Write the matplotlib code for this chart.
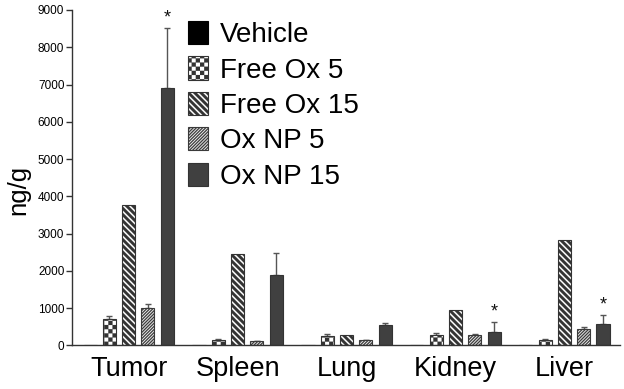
import warnings
warnings.simplefilter("ignore")
import numpy as np
import matplotlib
matplotlib.use("Agg")
import matplotlib.pyplot as plt
import matplotlib.hatch as mhatch
from matplotlib.path import Path

# ---------------- data ----------------
categories = ["Tumor", "Spleen", "Lung", "Kidney", "Liver"]
series_names = ["Vehicle", "Free Ox 5", "Free Ox 15", "Ox NP 5", "Ox NP 15"]
vehicle = [15, 10, 0, 0, 0]
vehicle_err = [0, 0, 0, 0, 0]
free_ox5 = [700, 155, 250, 285, 135]
free_ox5_err = [75, 15, 50, 35, 25]
free_ox15 = [3765, 2455, 268, 940, 2826]
free_ox15_err = [0, 0, 0, 0, 0]
ox_np5 = [1000, 107, 134, 285, 430]
ox_np5_err = [100, 10, 15, 15, 50]
ox_np15 = [6897, 1895, 537, 357, 572]
ox_np15_err = [1627, 582, 53, 260, 250]
significant = [True, False, False, True, True]   # asterisk over Ox NP 15
yticks = [0, 1000, 2000, 3000, 4000, 5000, 6000, 7000, 8000, 9000]

# ---------------- custom hatches ----------------
CODES5 = [Path.MOVETO, Path.LINETO, Path.LINETO, Path.LINETO, Path.CLOSEPOLY]


def make_band_hatch(char, n, frac, slope):
    class Bands(mhatch.HatchPatternBase):
        def __init__(self, hatch, density):
            self.on = char in hatch
            self.cs = np.arange(-2 * n, 3 * n) / n
            self.num_vertices = 5 * len(self.cs) if self.on else 0

        def set_vertices_and_codes(self, vertices, codes):
            w = frac / n
            for k, c in enumerate(self.cs):
                if slope > 0:
                    pts = [(-1, -1 + c), (2, 2 + c), (2, 2 + c + w), (-1, -1 + c + w), (-1, -1 + c)]
                else:
                    pts = [(-1, 1 + c), (2, -2 + c), (2, -2 + c + w), (-1, 1 + c + w), (-1, 1 + c)]
                vertices[5 * k:5 * k + 5] = pts
                codes[5 * k:5 * k + 5] = CODES5
    return Bands


def make_checker_hatch(char, n):
    class Checker(mhatch.HatchPatternBase):
        def __init__(self, hatch, density):
            self.on = char in hatch
            self.cells = [(i, j) for i in range(n) for j in range(n) if (i + j) % 2 == 0]
            self.num_vertices = 5 * len(self.cells) if self.on else 0

        def set_vertices_and_codes(self, vertices, codes):
            s = 1.0 / n
            for k, (i, j) in enumerate(self.cells):
                x0, y0 = i * s, j * s
                pts = [(x0, y0), (x0 + s, y0), (x0 + s, y0 + s), (x0, y0 + s), (x0, y0)]
                vertices[5 * k:5 * k + 5] = pts
                codes[5 * k:5 * k + 5] = CODES5
    return Checker


mhatch._hatch_types.append(make_checker_hatch("c", 24))
mhatch._hatch_types.append(make_band_hatch("a", 16, 0.62, -1))
mhatch._hatch_types.append(make_band_hatch("b", 32, 0.55, +1))

plt.rcParams["font.family"] = ["Liberation Sans", "DejaVu Sans"]
plt.rcParams["hatch.linewidth"] = 0.1

# ---------------- figure ----------------
W, H = 624, 389
fig = plt.figure(figsize=(W / 100, H / 100), dpi=100)
ax = fig.add_axes([72 / W, 1 - 345.3 / H, (620 - 72) / W, (345.3 - 10) / H])

values = [vehicle, free_ox5, free_ox15, ox_np5, ox_np15]
errors = [vehicle_err, free_ox5_err, free_ox15_err, ox_np5_err, ox_np15_err]
styles = [
    dict(facecolor="#000000", edgecolor="#000000", hatch=None),
    dict(facecolor="#ffffff", edgecolor="#333333", hatch="c"),
    dict(facecolor="#ffffff", edgecolor="#333333", hatch="a"),
    dict(facecolor="#ffffff", edgecolor="#3a3a3a", hatch="b"),
    dict(facecolor="#404040", edgecolor="#333333", hatch=None),
]

x = np.arange(len(categories))
pitch = 0.177
width = 0.12
containers = []
for i, (vals, errs, st, name) in enumerate(zip(values, errors, styles, series_names)):
    pos = x + (i - 2) * pitch
    bc = ax.bar(pos, vals, width=width, label=name, linewidth=0.8, zorder=2, **st)
    containers.append(bc)
    errs = np.asarray(errs, dtype=float)
    mask = errs > 0
    if mask.any():
        ax.errorbar(pos[mask], np.asarray(vals)[mask],
                    yerr=[np.zeros(mask.sum()), errs[mask]],
                    fmt="none", ecolor="#555555", elinewidth=1.0,
                    capsize=2.5, capthick=1.0, zorder=1)
    if i == 4:
        for p, v, e, sig in zip(pos, vals, errs, significant):
            if sig:
                ax.annotate("*", (p, v + e), xytext=(0, 1), textcoords="offset points",
                            ha="center", va="bottom", fontsize=13, color="#111111")

ax.set_xlim(-0.52, 4.51)
ax.set_ylim(0, 9000)
ax.set_yticks(yticks)
ax.set_yticklabels([str(t) for t in yticks], fontsize=8.5)
ax.set_xticks(x)
ax.set_xticklabels(categories, fontsize=19.5)
ax.tick_params(axis="x", length=0, pad=8)
ax.tick_params(axis="y", length=4, width=1, color="#333333", pad=1.5)
for s in ["top", "right"]:
    ax.spines[s].set_visible(False)
for s in ["left", "bottom"]:
    ax.spines[s].set_color("#333333")
    ax.spines[s].set_linewidth(1.0)

fig.text(18 / W, 1 - 190 / H, "ng/g", rotation=90, ha="center", va="center", fontsize=18.5)

leg = ax.legend(handles=containers, labels=series_names, loc="upper left",
                bbox_to_anchor=(188 / W, 1 - 21 / H), bbox_transform=fig.transFigure,
                frameon=False, fontsize=20, handlelength=0.72, handleheight=0.9,
                handletextpad=0.43, labelspacing=0.3, borderpad=0, borderaxespad=0)

fig.savefig("out.png", dpi=100)
